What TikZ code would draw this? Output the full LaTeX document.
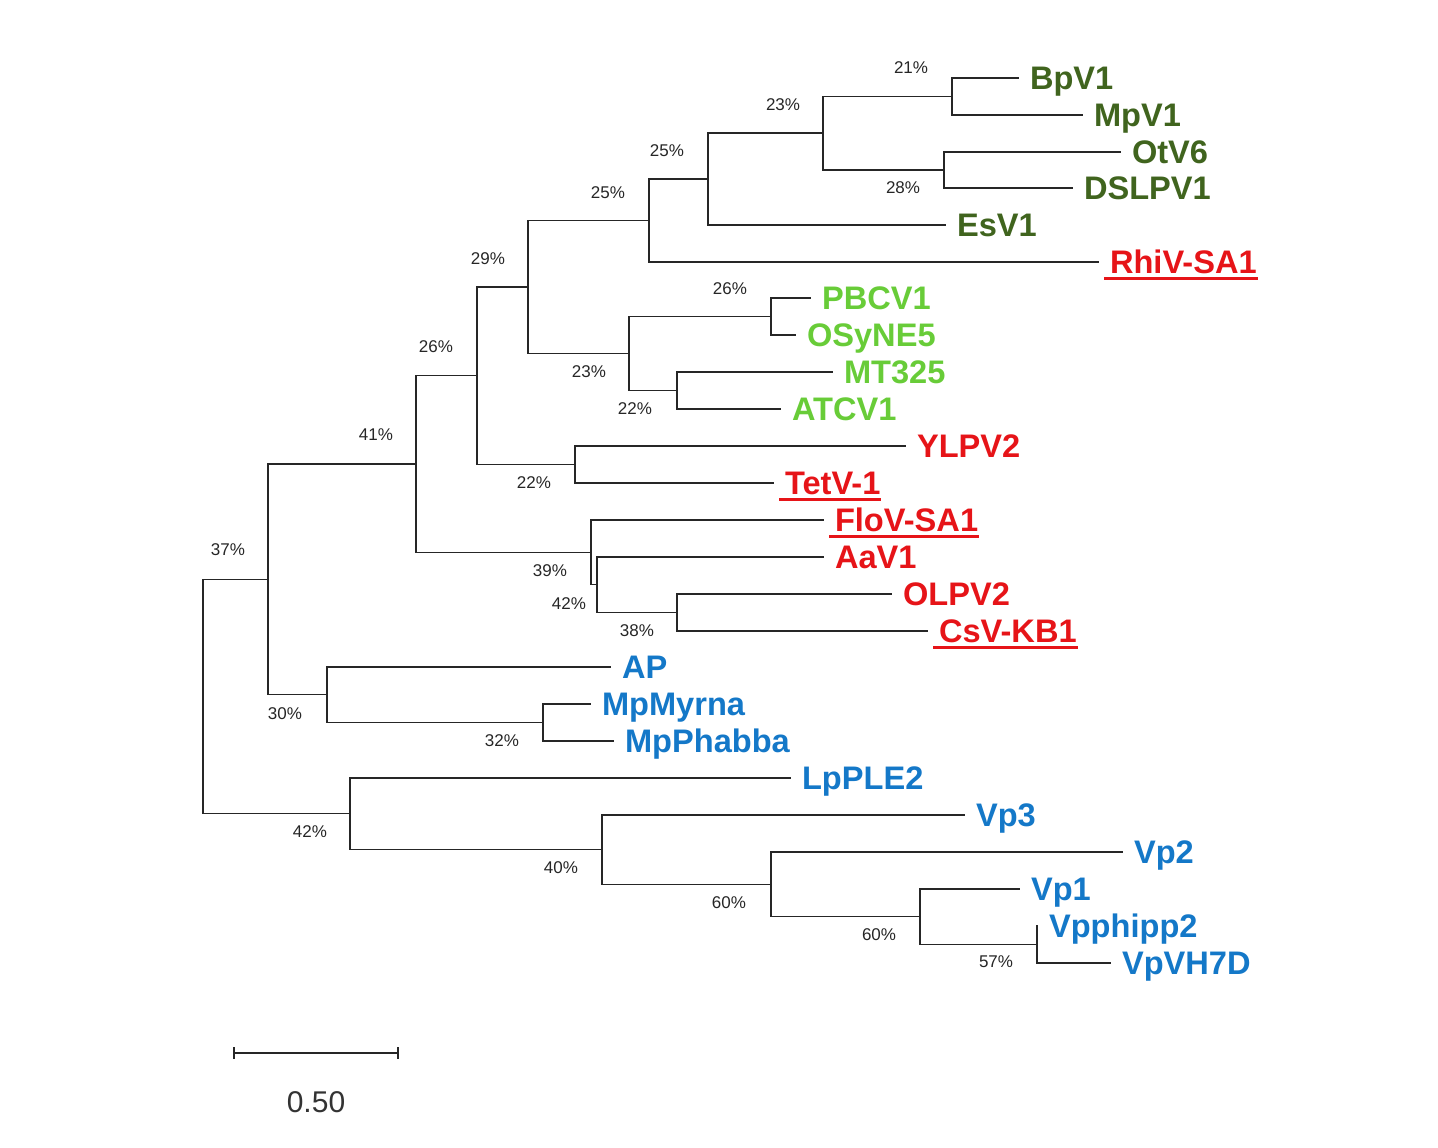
\documentclass[tikz,border=0pt]{standalone}
\usepackage{fontspec}
\setmainfont{Liberation Sans}
\definecolor{olive}{RGB}{64,100,30}
\definecolor{lime}{RGB}{104,204,56}
\definecolor{redv}{RGB}{230,20,24}
\definecolor{bluev}{RGB}{20,120,200}
\begin{document}
\begin{tikzpicture}[x=0.5pt,y=-0.5pt,line join=miter,line cap=rect]
\tikzset{every node/.style={inner sep=0pt,outer sep=0pt},
	leaf/.style={anchor=west,inner xsep=6pt,text height=11.6pt,text depth=0pt,font=\bfseries\fontsize{16.3}{19}\selectfont},
	pct/.style={font=\fontsize{8.5}{10}\selectfont,text=black!85},
	branch/.style={line width=0.6pt,black!85}}
\useasboundingbox (0,0) rectangle (1438,1147);
% leaves
\foreach \n/\t/\x/\y/\c in {BpV1/BpV1/1018/78/olive, MpV1/MpV1/1082/115/olive, OtV6/OtV6/1120/152/olive,
	DSLPV1/DSLPV1/1072/188/olive, EsV1/EsV1/945/225/olive, RhiV/RhiV-SA1/1098/262/redv,
	PBCV1/PBCV1/810/298/lime, OSyNE5/OSyNE5/795/335/lime, MT325/MT325/832/372/lime, ATCV1/ATCV1/780/409/lime,
	YLPV2/YLPV2/905/446/redv, TetV/TetV-1/773/483/redv, FloV/FloV-SA1/823/520/redv, AaV1/AaV1/823/557/redv,
	OLPV2/OLPV2/891/594/redv, CsV/CsV-KB1/927/631/redv,
	AP/AP/610/667/bluev, MpMyrna/MpMyrna/590/704/bluev, MpPhabba/MpPhabba/613/741/bluev,
	LpPLE2/LpPLE2/790/778/bluev, Vp3/Vp3/964/815/bluev, Vp2/Vp2/1122/852/bluev, Vp1/Vp1/1019/889/bluev,
	Vpphipp2/Vpphipp2/1037/926/bluev, VpVH7D/VpVH7D/1110/963/bluev}
\node[leaf,text=\c] (\n) at (\x,\y) {\t};
\foreach \n in {RhiV,TetV,FloV,CsV}
\draw[redv,line width=1.3pt,line cap=butt] ([xshift=3pt,yshift=-2.5pt]\n.south west) -- ([xshift=-5.5pt,yshift=-2.5pt]\n.south east);
% inner nodes
\coordinate (nBM) at (952,96.5);
\coordinate (nOD) at (944,170);
\coordinate (nBMOD) at (823,133);
\coordinate (nEs) at (708,179);
\coordinate (nRhi) at (649,220.5);
\coordinate (nPO) at (771,316.5);
\coordinate (nMA) at (677,390.5);
\coordinate (nGreen) at (629,353.5);
\coordinate (nTop) at (528,287);
\coordinate (nYT) at (575,464.5);
\coordinate (n29) at (477,375.75);
\coordinate (nOC) at (677,612.5);
\coordinate (n42) at (597,584.75);
\coordinate (n39) at (591,552.4);
\coordinate (n41) at (416,464);
\coordinate (nMM) at (543,722.5);
\coordinate (n30) at (327,694.75);
\coordinate (n37) at (268,579.4);
\coordinate (nVH) at (1037,944.5);
\coordinate (nVp1) at (920,916.75);
\coordinate (nVp2) at (771,884.4);
\coordinate (nVp3) at (602,849.7);
\coordinate (nLp) at (350,813.85);
\coordinate (root) at (203,696.6);
\foreach \p/\c in {nBM/BpV1.west, nBM/MpV1.west, nOD/OtV6.west, nOD/DSLPV1.west, nBMOD/nBM, nBMOD/nOD,
	nEs/nBMOD, nEs/EsV1.west, nRhi/nEs, nRhi/RhiV.west, nPO/PBCV1.west, nPO/OSyNE5.west,
	nMA/MT325.west, nMA/ATCV1.west, nGreen/nPO, nGreen/nMA, nTop/nRhi, nTop/nGreen,
	nYT/YLPV2.west, nYT/TetV.west, n29/nTop, n29/nYT, nOC/OLPV2.west, nOC/CsV.west,
	n42/AaV1.west, n42/nOC, n39/FloV.west, n39/n42, n41/n29, n41/n39,
	nMM/MpMyrna.west, nMM/MpPhabba.west, n30/AP.west, n30/nMM, n37/n41, n37/n30,
	nVH/Vpphipp2.west, nVH/VpVH7D.west, nVp1/Vp1.west, nVp1/nVH, nVp2/Vp2.west, nVp2/nVp1,
	nVp3/Vp3.west, nVp3/nVp2, nLp/LpPLE2.west, nLp/nVp3, root/n37, root/nLp}
\draw[branch] (\p) |- (\c);
% bootstrap values
\foreach \x/\y/\t [count=\i] in {911/68/21, 783/105/23, 667/151/25, 608/193/25, 903/188/28, 488/259/29,
	730/289/26, 436/347/26, 589/372/23, 635/409/22, 376/435/41, 534/483/22, 228/550/37, 550/571/39,
	569/604/42, 637/631/38, 285/714/30, 502/741/32, 310/832/42, 561/868/40, 729/903/60, 879/935/60, 996/962/57}
\node[pct] (bs\i) at (\x,\y) {\t\%};
% scale bar
\coordinate (sbL) at (234,1053);
\coordinate (sbR) at (398,1053);
\draw[branch,line cap=butt] (sbL) -- (sbR) ([yshift=3pt]sbL) -- ([yshift=-3pt]sbL) ([yshift=3pt]sbR) -- ([yshift=-3pt]sbR);
\node[font=\fontsize{15}{18}\selectfont,text=black!80] (sblabel) at (316,1102) {0.50};
\end{tikzpicture}
\end{document}
